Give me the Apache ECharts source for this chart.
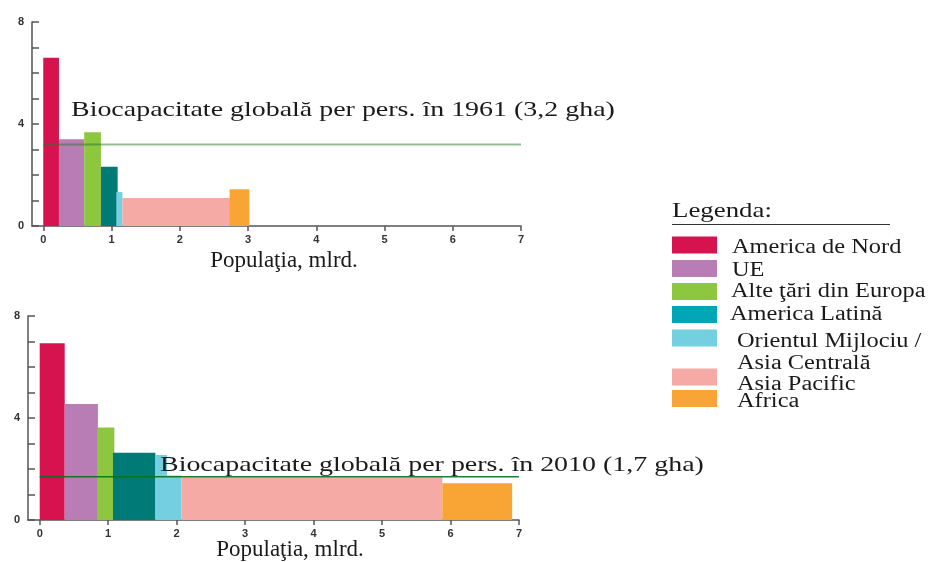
<!DOCTYPE html>
<html>
<head>
<meta charset="utf-8">
<script src="https://cdn.jsdelivr.net/npm/echarts@6/dist/echarts.min.js"></script>
<style>
html,body{margin:0;padding:0;background:#fff;}
#c{width:928px;height:562px;}
</style>
</head>
<body>
<div id="c"></div>
<script>
// ---- data ----
const regions = ['America de Nord','UE','Alte ţări din Europa','America Latină','Orientul Mijlociu / Asia Centrală','Asia Pacific','Africa'];
const legendLines = [['America de Nord'],['UE'],['Alte ţări din Europa'],['America Latină'],['Orientul Mijlociu /','Asia Centrală'],['Asia Pacific'],['Africa']];
// 1961: population span (mlrd.) and footprint per person (gha)
const popStart1961 = [0, 0.23, 0.60, 0.845, 1.07, 1.16, 2.73];
const popEnd1961   = [0.23, 0.60, 0.845, 1.09, 1.16, 2.75, 3.02];
const footprint1961 = [6.6, 3.4, 3.68, 2.32, 1.33, 1.1, 1.44];
// 2010
const popStart2010 = [0, 0.365, 0.84, 1.07, 1.69, 2.07, 5.88];
const popEnd2010   = [0.365, 0.85, 1.09, 1.69, 2.07, 5.88, 6.90];
const footprint2010 = [6.93, 4.55, 3.63, 2.64, 2.55, 1.68, 1.44];
const biocap1961 = 3.2;
const biocap2010 = 1.7;
const xTicks = [0,1,2,3,4,5,6,7];
const yTickLabels = [0,4,8];
const biocapText1961 = 'Biocapacitate globală per pers. în 1961 (3,2 gha)';
const biocapText2010 = 'Biocapacitate globală per pers. în 2010 (1,7 gha)';
const xTitle = 'Populaţia, mlrd.';
const legendTitle = 'Legenda:';

// ---- styles ----
const barColors = ['#d6134f','#b97db6','#8dc63f','#007a76','#74cfe0','#f6aaa6','#f8a535'];
const legendColors = ['#d6134f','#b97db6','#8dc63f','#00a6b8','#74cfe0','#f6aaa6','#f8a535'];
const serif = '"Liberation Serif","DejaVu Serif",serif';
const sans = '"Liberation Sans",Arial,sans-serif';

function buildData(s, e, v){ return s.map((x,i)=>[x, e[i], v[i], i]); }

function renderBar(params, api){
  const x0 = api.value(0), x1 = api.value(1), v = api.value(2);
  const p0 = api.coord([x0, v]);
  const p1 = api.coord([x1, 0]);
  return {type:'rect', shape:{x:p0[0], y:p0[1], width:p1[0]-p0[0], height:p1[1]-p0[1]},
          style:{fill: barColors[api.value(3)]}};
}

function xAxisDef(gi, minV){
  return {type:'value', gridIndex:gi, min:minV, max:7,
    axisLine:{show:true, onZero:false, lineStyle:{color:'#555', width:1.5}},
    axisTick:{show:true, customValues:xTicks, length:5, lineStyle:{color:'#555', width:1.5}},
    axisLabel:{customValues:xTicks, color:'#333', fontWeight:'bold', fontSize:11, fontFamily:sans, margin:8},
    splitLine:{show:false}};
}
function yAxisDef(gi){
  return {type:'value', gridIndex:gi, min:0, max:8, interval:1,
    axisLine:{show:true, onZero:false, lineStyle:{color:'#555', width:1.5}},
    axisTick:{show:true, inside:true, interval:0, length:7, lineStyle:{color:'#555', width:1.5}},
    axisLabel:{interval:0, hideOverlap:false, formatter:v => yTickLabels.indexOf(v) >= 0 ? String(v) : '',
      color:'#333', fontWeight:'bold', fontSize:11, fontFamily:sans, margin:8},
    splitLine:{show:false}};
}

const SX = 1.27, SXL = 1.22;
const graphic = [];
// axis titles & biocapacity labels
graphic.push({type:'text', x:284, y:261, style:{text:xTitle, font:'23px '+serif, fill:'#1a1a1a', align:'center', verticalAlign:'middle'}});
graphic.push({type:'text', x:290, y:550, style:{text:xTitle, font:'23px '+serif, fill:'#1a1a1a', align:'center', verticalAlign:'middle'}});
graphic.push({type:'text', x:71, y:110, scaleX:SX, z:10, style:{text:biocapText1961, font:'22px '+serif, fill:'#1a1a1a', align:'left', verticalAlign:'middle'}});
// white box behind the 2010 label (as in the reference, it masks the bars above the line)
graphic.push({type:'rect', z:8, shape:{x:167, y:455, width:537, height:20.5}, style:{fill:'#fff'}});
graphic.push({type:'text', x:160, y:465, scaleX:SX, z:10, style:{text:biocapText2010, font:'22px '+serif, fill:'#1a1a1a', align:'left', verticalAlign:'middle'}});
// legend
graphic.push({type:'text', x:672, y:211, scaleX:1.22, style:{text:legendTitle, font:'22px '+serif, fill:'#1a1a1a', align:'left', verticalAlign:'middle'}});
graphic.push({type:'line', shape:{x1:672, y1:224.5, x2:890, y2:224.5}, style:{stroke:'#333', lineWidth:1.2}});
const swatchY = [236.5, 260, 283, 306, 329.5, 368.5, 390];
const textY = [[247.5],[271],[292],[315],[341.5,363.5],[385],[402]];
const textX = [732, 732, 731, 730, 737, 737, 737];
regions.forEach((r,i)=>{
  graphic.push({type:'rect', shape:{x:672, y:swatchY[i], width:45, height:17}, style:{fill:legendColors[i]}});
  legendLines[i].forEach((t,j)=>{
    graphic.push({type:'text', x:textX[i], y:textY[i][j], scaleX:SXL, style:{text:t, font:'20px '+serif, fill:'#1a1a1a', align:'left', verticalAlign:'middle'}});
  });
});

const option = {
  backgroundColor:'#fff',
  animation:false,
  grid:[
    {left:32, right:407, top:22, height:204, containLabel:false},
    {left:28, right:409, top:316, height:204, containLabel:false}
  ],
  xAxis:[xAxisDef(0, -0.165), xAxisDef(1, -0.171)],
  yAxis:[yAxisDef(0), yAxisDef(1)],
  series:[
    {type:'custom', xAxisIndex:0, yAxisIndex:0, renderItem:renderBar, encode:{x:[0,1], y:2},
     data:buildData(popStart1961, popEnd1961, footprint1961), z:2},
    {type:'custom', xAxisIndex:1, yAxisIndex:1, renderItem:renderBar, encode:{x:[0,1], y:2},
     data:buildData(popStart2010, popEnd2010, footprint2010), z:2},
    {type:'line', xAxisIndex:0, yAxisIndex:0, data:[[0,biocap1961],[7,biocap1961]], symbol:'none', z:5,
     lineStyle:{color:'rgba(40,120,40,0.5)', width:2}},
    {type:'line', xAxisIndex:1, yAxisIndex:1, data:[[0,biocap2010],[7,biocap2010]], symbol:'none', z:5,
     lineStyle:{color:'rgba(10,110,30,0.9)', width:1.5}}
  ],
  graphic: graphic
};
const chart = echarts.init(document.getElementById('c'), null, {renderer:'canvas'});
chart.setOption(option);
</script>
</body>
</html>
